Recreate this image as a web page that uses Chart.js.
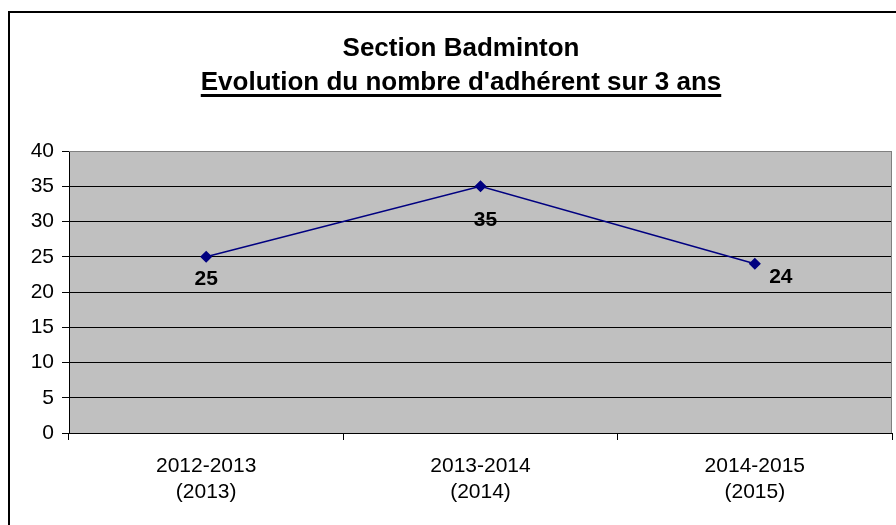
<!DOCTYPE html>
<html lang="fr">
<head>
<meta charset="UTF-8">
<title>Section Badminton</title>
<script src="https://cdn.jsdelivr.net/npm/chart.js"></script>
<style>
    html, body { margin: 0; padding: 0; background: #fff; overflow: hidden; }
    canvas { display: block; }
</style>
</head>
<body>
<canvas id="chart" width="896" height="525"></canvas>
<script>
const saisons = [['2012-2013', '(2013)'], ['2013-2014', '(2014)'], ['2014-2015', '(2015)']];
const adherents = [25, 35, 24];
const yTicks = [0, 5, 10, 15, 20, 25, 30, 35, 40];
const titre = 'Section Badminton';
const sousTitre = "Evolution du nombre d'adhérent sur 3 ans";

const FONT = '"Liberation Sans", Arial, sans-serif';
// where each value label sits relative to its point (dx, dy)
const labelOffsets = [[0, 22], [5, 34], [26, 13]];

const framePlugin = {
    id: 'frame',
    beforeDraw(chart) {
        const { ctx, chartArea: a } = chart;
        ctx.save();
        ctx.fillStyle = '#fff';
        ctx.fillRect(0, 0, chart.width, chart.height);
        ctx.strokeStyle = '#000';
        ctx.lineWidth = 2;
        ctx.strokeRect(9, 12, 1000, 1000);
        ctx.fillStyle = '#c0c0c0';
        ctx.fillRect(a.left, a.top, a.right - a.left, a.bottom - a.top);
        ctx.restore();
    },
    afterDraw(chart) {
        const { ctx, chartArea: a } = chart;
        ctx.save();
        // grey plot border, top and right
        ctx.strokeStyle = '#808080';
        ctx.lineWidth = 1;
        ctx.beginPath();
        ctx.moveTo(a.left, a.top + 0.5);
        ctx.lineTo(a.right - 0.5, a.top + 0.5);
        ctx.lineTo(a.right - 0.5, a.bottom);
        ctx.stroke();

        // title
        ctx.fillStyle = '#000';
        ctx.textAlign = 'center';
        ctx.textBaseline = 'alphabetic';
        ctx.font = 'bold 26px ' + FONT;
        const cx = 461;
        ctx.fillText(titre, cx, 56);
        ctx.fillText(sousTitre, cx, 90);
        const w = ctx.measureText(sousTitre).width;
        ctx.fillRect(cx - w / 2, 94, w, 3);

        // value labels
        ctx.font = 'bold 21px ' + FONT;
        ctx.textBaseline = 'middle';
        const meta = chart.getDatasetMeta(0);
        meta.data.forEach((pt, i) => {
            const [dx, dy] = labelOffsets[i];
            ctx.fillText(String(adherents[i]), pt.x + dx, pt.y + dy);
        });
        ctx.restore();
    }
};

new Chart(document.getElementById('chart').getContext('2d'), {
    type: 'line',
    data: {
        labels: saisons,
        datasets: [{
            label: 'Adhérents',
            data: adherents,
            borderColor: '#000080',
            borderWidth: 1.5,
            backgroundColor: '#000080',
            pointStyle: 'rectRot',
            pointRadius: 5,
            pointBackgroundColor: '#000080',
            pointBorderColor: '#000080',
            tension: 0,
            fill: false
        }]
    },
    options: {
        responsive: false,
        animation: false,
        layout: { autoPadding: false, padding: { top: 151, right: 4, bottom: 0, left: 0 } },
        plugins: {
            legend: { display: false },
            title: { display: false },
            tooltip: { enabled: false }
        },
        scales: {
            x: {
                offset: true,
                afterFit(scale) {
                    scale.height = 92;
                    scale.paddingLeft = 0;
                    scale.paddingRight = 0;
                },
                grid: {
                    offset: true,
                    drawOnChartArea: false,
                    color: '#000',
                    tickLength: 7
                },
                border: { display: true, color: '#000', width: 1 },
                ticks: {
                    color: '#000',
                    padding: 14,
                    font: { family: FONT, size: 21, lineHeight: 1.2 }
                }
            },
            y: {
                min: 0,
                max: 40,
                afterFit(scale) { scale.width = 69; },
                afterBuildTicks(scale) { scale.ticks = yTicks.map(v => ({ value: v })); },
                grid: {
                    color: ctx => (ctx.tick && ctx.tick.value === 40) ? '#808080' : '#000',
                    tickColor: '#000',
                    tickLength: 7,
                    lineWidth: 1
                },
                border: { display: true, color: '#000', width: 1 },
                ticks: {
                    color: '#000',
                    padding: 8,
                    font: { family: FONT, size: 21 }
                }
            }
        }
    },
    plugins: [framePlugin]
});
</script>
</body>
</html>
